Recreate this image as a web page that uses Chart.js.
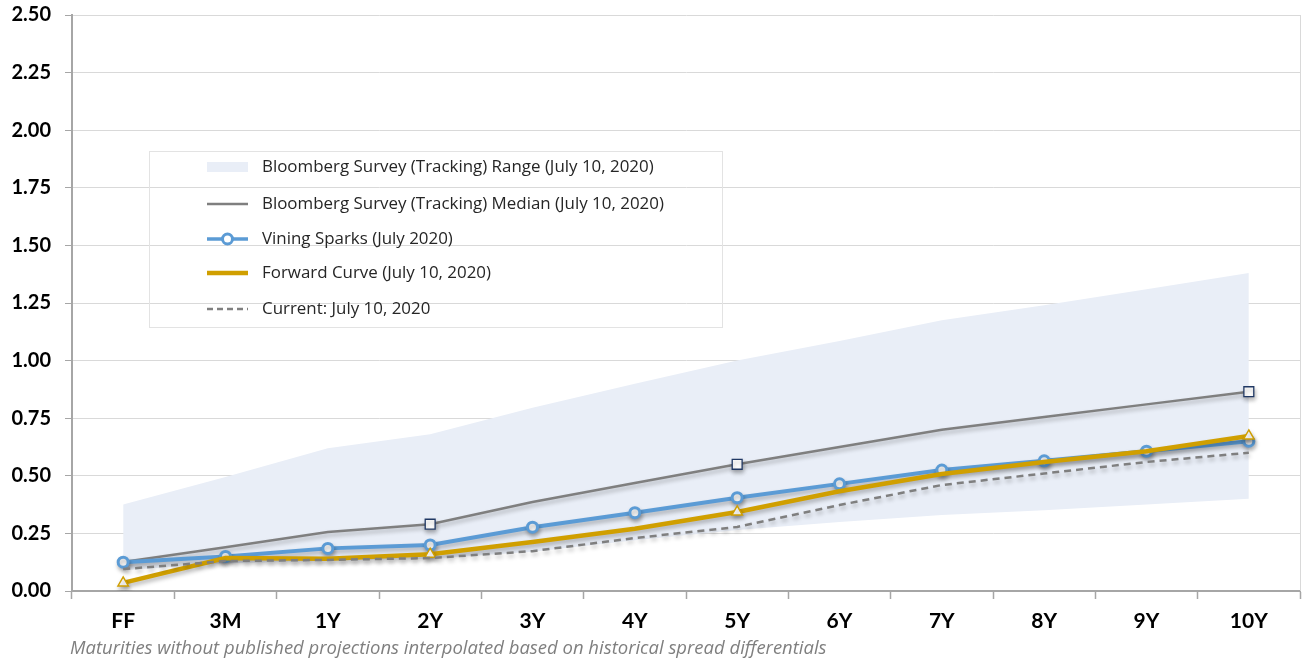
<!DOCTYPE html>
<html>
<head>
<meta charset="utf-8">
<script src="https://cdn.jsdelivr.net/npm/chart.js@4.4.1/dist/chart.umd.min.js"></script>
<style>
  html, body { margin: 0; padding: 0; background: #ffffff; }
  #wrap { width: 1304px; height: 664px; position: relative; }
</style>
</head>
<body>
<div id="wrap"><canvas id="c" width="1304" height="664"></canvas></div>
<script>
const categories = ['FF','3M','1Y','2Y','3Y','4Y','5Y','6Y','7Y','8Y','9Y','10Y'];
const rangeLow  = [0.09, 0.12, 0.13, 0.14, 0.17, 0.22, 0.265, 0.30, 0.33, 0.35, 0.375, 0.40];
const rangeHigh = [0.375, 0.495, 0.62, 0.68, 0.795, 0.90, 1.00, 1.085, 1.175, 1.24, 1.31, 1.38];
const median    = [0.126, 0.19, 0.256, 0.29, 0.386, 0.469, 0.55, 0.625, 0.70, 0.755, 0.81, 0.865];
const vining    = [0.125, 0.15, 0.185, 0.20, 0.277, 0.34, 0.405, 0.465, 0.525, 0.565, 0.607, 0.65];
const forward   = [0.035, 0.143, 0.14, 0.16, 0.213, 0.27, 0.343, 0.433, 0.508, 0.56, 0.607, 0.673];
const current   = [0.095, 0.13, 0.135, 0.143, 0.173, 0.23, 0.278, 0.373, 0.46, 0.51, 0.56, 0.60];
const yTicks    = [0, 0.25, 0.5, 0.75, 1.0, 1.25, 1.5, 1.75, 2.0, 2.25, 2.5];
const medianMarked  = ['2Y','5Y','10Y'];
const forwardMarked = ['FF','2Y','5Y','10Y'];

const legendLabels = [
  'Bloomberg Survey (Tracking) Range (July 10, 2020)',
  'Bloomberg Survey (Tracking) Median (July 10, 2020)',
  'Vining Sparks (July 2020)',
  'Forward Curve (July 10, 2020)',
  'Current: July 10, 2020'
];
const footnote = 'Maturities without published projections interpolated based on historical spread differentials';

const FONT = 'Lato, "Open Sans", sans-serif';
const TFONT = '"Open Sans", Lato, sans-serif';
const BAND = '#E9EEF7';
const GRAY = '#7F7F7F';
const BLUE = '#5B9BD5';
const GOLD = '#D09F00';

function fitFont(ctx, style, family, text, target) {
  ctx.font = style + ' 20px ' + family;
  const w = ctx.measureText(text).width;
  const size = 20 * target / w;
  return style + ' ' + size.toFixed(2) + 'px ' + family;
}

const shadowPlugin = {
  id: 'shadow',
  beforeDatasetDraw(chart, args) {
    if (args.index < 2) return;
    const ctx = chart.ctx;
    ctx.save();
    ctx.shadowColor = 'rgba(0,0,0,0.28)';
    ctx.shadowBlur = 4;
    ctx.shadowOffsetX = 1;
    ctx.shadowOffsetY = 3;
  },
  afterDatasetDraw(chart, args) {
    if (args.index < 2) return;
    chart.ctx.restore();
  }
};

const decorPlugin = {
  id: 'decor',
  afterDraw(chart) {
    const ctx = chart.ctx;
    const a = chart.chartArea;
    ctx.save();
    // right border of plot area
    ctx.strokeStyle = '#D9D9D9';
    ctx.lineWidth = 1;
    ctx.beginPath();
    ctx.moveTo(a.right + 0.5, a.top);
    ctx.lineTo(a.right + 0.5, a.bottom);
    ctx.stroke();

    // legend box
    const bx = 149, by = 151, bw = 573, bh = 176;
    ctx.strokeStyle = '#E3E3E3';
    ctx.lineWidth = 1;
    ctx.strokeRect(bx + 0.5, by + 0.5, bw, bh);
    const rows = [167, 204, 239, 273, 309];
    const sx0 = 207, sx1 = 248, tx = 262;
    const legendFont = fitFont(ctx, 'normal', TFONT, legendLabels[1], 402);
    rows.forEach((y, i) => {
      ctx.save();
      if (i === 0) {
        ctx.fillStyle = BAND;
        ctx.fillRect(sx0, y - 5, sx1 - sx0, 10);
      } else if (i === 1) {
        ctx.strokeStyle = GRAY; ctx.lineWidth = 2.5;
        ctx.beginPath(); ctx.moveTo(sx0, y); ctx.lineTo(sx1, y); ctx.stroke();
      } else if (i === 2) {
        ctx.strokeStyle = BLUE; ctx.lineWidth = 3.5;
        ctx.beginPath(); ctx.moveTo(sx0, y); ctx.lineTo(sx1, y); ctx.stroke();
        ctx.fillStyle = '#fff'; ctx.lineWidth = 3;
        ctx.beginPath(); ctx.arc((sx0 + sx1) / 2, y, 5, 0, Math.PI * 2); ctx.fill(); ctx.stroke();
      } else if (i === 3) {
        ctx.strokeStyle = GOLD; ctx.lineWidth = 4.5;
        ctx.beginPath(); ctx.moveTo(sx0, y); ctx.lineTo(sx1, y); ctx.stroke();
      } else {
        ctx.strokeStyle = GRAY; ctx.lineWidth = 2.5; ctx.setLineDash([6, 4]);
        ctx.beginPath(); ctx.moveTo(sx0, y); ctx.lineTo(sx1, y); ctx.stroke();
      }
      ctx.restore();
      ctx.font = legendFont;
      ctx.fillStyle = '#262626';
      ctx.textBaseline = 'middle';
      ctx.textAlign = 'left';
      ctx.fillText(legendLabels[i], tx, y);
    });

    // footnote
    ctx.font = fitFont(ctx, 'italic', TFONT, footnote, 757);
    ctx.fillStyle = '#7F7F7F';
    ctx.textBaseline = 'middle';
    ctx.textAlign = 'left';
    ctx.fillText(footnote, 70, 649);
    ctx.restore();
  }
};

const pick = (marked, r) => categories.map(c => marked.includes(c) ? r : 0);

new Chart(document.getElementById('c'), {
  type: 'line',
  data: {
    labels: categories,
    datasets: [
      { label: 'low', data: rangeLow, borderWidth: 0, pointRadius: 0, fill: false, order: 10,
        borderColor: 'rgba(0,0,0,0)', backgroundColor: BAND },
      { label: legendLabels[0], data: rangeHigh, borderWidth: 0, pointRadius: 0, fill: '-1', order: 9,
        borderColor: 'rgba(0,0,0,0)', backgroundColor: BAND },
      { label: legendLabels[1], data: median, borderColor: GRAY, borderWidth: 2.5, order: 4,
        pointStyle: 'rect', pointRadius: pick(medianMarked, 7), pointBackgroundColor: '#fff',
        pointBorderColor: '#203864', pointBorderWidth: 1.3, fill: false },
      { label: legendLabels[2], data: vining, borderColor: BLUE, borderWidth: 4, order: 3,
        pointStyle: 'circle', pointRadius: 5, pointBackgroundColor: '#fff',
        pointBorderColor: BLUE, pointBorderWidth: 3, fill: false },
      { label: legendLabels[3], data: forward, borderColor: GOLD, borderWidth: 4.5, order: 2,
        pointStyle: 'triangle', pointRadius: pick(forwardMarked, 6), pointBackgroundColor: '#fff',
        pointBorderColor: GOLD, pointBorderWidth: 1.5, fill: false },
      { label: legendLabels[4], data: current, borderColor: GRAY, borderWidth: 2.5, order: 1,
        borderDash: [7, 5], pointRadius: 0, fill: false }
    ]
  },
  options: {
    responsive: false,
    animation: false,
    layout: { autoPadding: false, padding: { top: 15, right: 4, bottom: 0, left: 0 } },
    plugins: { legend: { display: false }, tooltip: { enabled: false } },
    elements: { line: { tension: 0 } },
    scales: {
      x: {
        offset: true,
        grid: { offset: true, drawOnChartArea: false, drawTicks: true, tickLength: 8, tickColor: '#A6A6A6', tickWidth: 1.5 },
        border: { color: '#A6A6A6', width: 2 },
        ticks: { color: '#000', font: { family: FONT, size: 21, weight: 'bold' }, padding: 10, maxRotation: 0 },
        afterFit(s) { s.height = 73; s.paddingLeft = 0; s.paddingRight = 0; }
      },
      y: {
        min: 0, max: 2.5,
        afterBuildTicks(s) { s.ticks = yTicks.map(v => ({ value: v })); },
        grid: { color: '#D9D9D9', lineWidth: 1, tickLength: 7, tickColor: '#A6A6A6' },
        border: { color: '#A6A6A6', width: 2 },
        ticks: { color: '#000', font: { family: FONT, size: 20, weight: 'bold' }, padding: 14,
                 callback: v => Number(v).toFixed(2) },
        afterFit(s) { s.width = 72; s.paddingTop = 0; s.paddingBottom = 0; }
      }
    }
  },
  plugins: [shadowPlugin, decorPlugin]
});
</script>
</body>
</html>
